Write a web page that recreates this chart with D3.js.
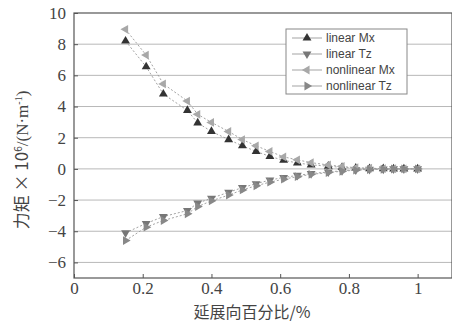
<!DOCTYPE html>
<html>
<head>
<meta charset="utf-8">
<script src="https://cdn.jsdelivr.net/npm/d3@7"></script>
<style>
  body { margin: 0; background: #fff; }
  svg { display: block; }
</style>
</head>
<body>
<svg id="chart"></svg>
<script>
// spanwise position (fraction of span)
const span = [0.15, 0.21, 0.26, 0.33, 0.36, 0.40, 0.45, 0.49, 0.53, 0.57, 0.61,
              0.65, 0.69, 0.74, 0.78, 0.82, 0.86, 0.90, 0.93, 0.96, 1.0];

const linearMx = [8.2, 6.55, 4.8, 3.75, 2.95, 2.4, 1.88, 1.48, 1.12, 0.8, 0.55,
                  0.38, 0.26, 0.17, 0.1, 0.05, 0.02, 0.01, 0, 0, 0];
const linearTz = [-4.1, -3.5, -3.06, -2.67, -2.2, -1.88, -1.5, -1.2, -0.95, -0.72, -0.55,
                  -0.42, -0.3, -0.2, -0.12, -0.06, -0.03, -0.01, 0, 0, 0];
const nonlinearMx = [8.95, 7.3, 5.45, 4.35, 3.5, 2.98, 2.4, 1.88, 1.48, 1.12, 0.77,
                     0.58, 0.4, 0.25, 0.15, 0.08, 0.04, 0.02, 0.01, 0, 0];
const nonlinearTz = [-4.6, -3.74, -3.31, -2.88, -2.42, -2.05, -1.68, -1.35, -1.08, -0.85, -0.66,
                     -0.5, -0.35, -0.24, -0.15, -0.08, -0.04, -0.02, -0.01, 0, 0];

const xTicks = [0, 0.2, 0.4, 0.6, 0.8, 1];
const yTicks = [-6, -4, -2, 0, 2, 4, 6, 8, 10];

const W = 452, H = 333;
const margin = {top: 13, right: 0, bottom: 55, left: 74};
const SERIF = "'Liberation Serif', 'Times New Roman', 'DejaVu Serif', serif";

const svg = d3.select("#chart").attr("width", W).attr("height", H);

const x = d3.scaleLinear().domain([0, 1.1]).range([margin.left, W - margin.right]);
const y = d3.scaleLinear().domain([-7, 10]).range([H - margin.bottom, margin.top]);

// grid lines
svg.append("g")
  .selectAll("line")
  .data(yTicks.filter(d => d < 10))
  .join("line")
  .attr("x1", x(0)).attr("x2", x(1.1))
  .attr("y1", d => y(d)).attr("y2", d => y(d))
  .attr("stroke", "#b8b8b8").attr("stroke-width", 1);

// frame
svg.append("rect")
  .attr("x", x(0)).attr("y", y(10))
  .attr("width", x(1.1) - x(0)).attr("height", y(-7) - y(10))
  .attr("fill", "none").attr("stroke", "#555").attr("stroke-width", 1.2);

// axes (inward ticks)
const xAxis = svg.append("g")
  .attr("transform", `translate(0,${y(-7)})`)
  .call(d3.axisBottom(x).tickValues(xTicks).tickSizeInner(-4).tickSizeOuter(0)
    .tickFormat(d => d === 0 ? "0" : d === 1 ? "1" : d3.format(".1f")(d)));
xAxis.select(".domain").remove();
xAxis.selectAll("line").attr("stroke", "#555");
xAxis.selectAll("text")
  .attr("y", 4)
  .style("font-family", SERIF)
  .style("font-size", "17px").attr("fill", "#444");

const yAxis = svg.append("g")
  .attr("transform", `translate(${x(0)},0)`)
  .call(d3.axisLeft(y).tickValues(yTicks).tickSizeInner(-4).tickSizeOuter(0));
yAxis.select(".domain").remove();
yAxis.selectAll("line").attr("stroke", "#555");
yAxis.selectAll("text")
  .attr("x", -8)
  .style("font-family", SERIF)
  .style("font-size", "17px").attr("fill", "#444");

// axis titles
svg.append("text")
  .attr("x", 252).attr("y", 318)
  .attr("text-anchor", "middle")
  .style("font-family", "'Noto Sans CJK SC', sans-serif")
  .style("font-size", "16px").attr("fill", "#444")
  .text("延展向百分比/%");

const yl = svg.append("text")
  .attr("transform", `translate(28,160) rotate(-90)`)
  .attr("text-anchor", "middle")
  .style("font-family", "'Noto Sans CJK SC', sans-serif")
  .style("font-size", "17px").attr("fill", "#444");
yl.append("tspan").text("力矩 × 10");
yl.append("tspan").style("font-size", "10px").attr("dy", -6).text("6");
yl.append("tspan").attr("dy", 6).style("font-family", SERIF).text("/(N·m");
yl.append("tspan").style("font-size", "10px").attr("dy", -6).style("font-family", SERIF).text("-1");
yl.append("tspan").attr("dy", 6).style("font-family", SERIF).text(")");

// series
const series = [
  {name: "linear Mx", values: linearMx, color: "#333", rot: 0},
  {name: "linear Tz", values: linearTz, color: "#777", rot: 180},
  {name: "nonlinear Mx", values: nonlinearMx, color: "#a8a8a8", rot: -90},
  {name: "nonlinear Tz", values: nonlinearTz, color: "#888", rot: 90}
];

const tri = d3.symbol().type(d3.symbolTriangle).size(34);
const line = d3.line().x(d => x(d[0])).y(d => y(d[1]));

series.forEach(s => {
  const pts = span.map((v, i) => [v, s.values[i]]);
  svg.append("path")
    .datum(pts)
    .attr("d", line)
    .attr("fill", "none")
    .attr("stroke", "#999")
    .attr("stroke-width", 0.9)
    .attr("stroke-dasharray", "2,2");
  svg.append("g")
    .selectAll("path")
    .data(pts)
    .join("path")
    .attr("d", tri)
    .attr("transform", d => `translate(${x(d[0])},${y(d[1])}) rotate(${s.rot})`)
    .attr("fill", s.color);
});

// legend
const lg = svg.append("g").attr("transform", "translate(286,29)");
lg.append("rect")
  .attr("width", 121).attr("height", 65)
  .attr("fill", "#fff").attr("stroke", "#888").attr("stroke-width", 1);
series.forEach((s, i) => {
  const row = lg.append("g").attr("transform", `translate(0,${9 + i * 16})`);
  row.append("line")
    .attr("x1", 6).attr("x2", 36)
    .attr("stroke", "#999").attr("stroke-width", 0.9);
  row.append("path")
    .attr("d", tri)
    .attr("transform", `translate(21,0) rotate(${s.rot})`)
    .attr("fill", s.color);
  row.append("text")
    .attr("x", 40).attr("y", 4)
    .style("font-family", "'Liberation Sans', Arial, sans-serif")
    .style("font-size", "12px").attr("fill", "#444")
    .text(s.name);
});
</script>
</body>
</html>
